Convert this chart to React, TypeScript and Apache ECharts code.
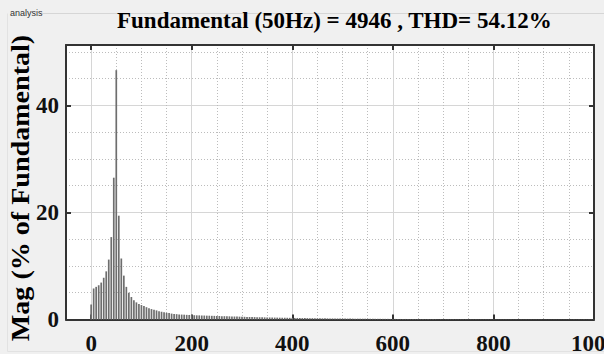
import React, { useEffect, useRef } from "react";
import * as echarts from "echarts";

// Spectrum magnitude (% of fundamental), one bin every 5 Hz
const binHz = 5;
const mag0to200 = [
  2.8, 5.8, 6.1, 6.4, 6.9, 7.8, 9.0, 11.2, 15.4, 26.5, 46.6, 19.4, 11.4, 8.2, 6.1, 5.0, 4.2, 3.6, 3.2, 2.9,
  2.7, 2.5, 2.3, 2.1, 1.95, 1.8, 1.7, 1.55, 1.45, 1.35, 1.25, 1.2, 1.1, 1.05, 1.0, 0.95, 0.92, 0.9, 0.87, 0.85,
  0.82,
];
const mag205to400 = [
  0.8, 0.78, 0.77, 0.75, 0.74, 0.72, 0.71, 0.69, 0.68, 0.66,
  0.65, 0.63, 0.62, 0.6, 0.59, 0.57, 0.56, 0.54, 0.53, 0.51,
  0.5, 0.48, 0.47, 0.46, 0.45, 0.44, 0.42, 0.41, 0.4, 0.39,
  0.38, 0.37, 0.36, 0.35, 0.34, 0.33, 0.33, 0.32, 0.31, 0.3,
];
const mag405to600 = [
  0.29, 0.29, 0.28, 0.27, 0.27, 0.26, 0.25, 0.25, 0.24, 0.23,
  0.23, 0.22, 0.22, 0.21, 0.21, 0.2, 0.2, 0.19, 0.19, 0.18,
  0.18, 0.17, 0.17, 0.17, 0.16, 0.16, 0.15, 0.15, 0.15, 0.14,
  0.14, 0.14, 0.13, 0.13, 0.13, 0.12, 0.12, 0.12, 0.11, 0.11,
];
const mag605to1000 = [
  0.11, 0.11, 0.1, 0.1, 0.1, 0.1, 0.09, 0.09, 0.09, 0.09,
  0.09, 0.08, 0.08, 0.08, 0.08, 0.08, 0.08, 0.07, 0.07, 0.07,
  0.07, 0.07, 0.07, 0.07, 0.06, 0.06, 0.06, 0.06, 0.06, 0.06,
  0.06, 0.06, 0.06, 0.05, 0.05, 0.05, 0.05, 0.05, 0.05, 0.05,
  0.05, 0.05, 0.05, 0.05, 0.04, 0.04, 0.04, 0.04, 0.04, 0.04,
  0.04, 0.04, 0.04, 0.04, 0.04, 0.04, 0.04, 0.04, 0.04, 0.03,
  0.03, 0.03, 0.03, 0.03, 0.03, 0.03, 0.03, 0.03, 0.03, 0.03,
  0.03, 0.03, 0.03, 0.03, 0.03, 0.03, 0.03, 0.03, 0.03, 0.03,
];
const xTickLabels = [0, 200, 400, 600, 800, 1000];
const yTickLabels = [0, 20, 40];
const titleText = "Fundamental (50Hz) = 4946 , THD= 54.12%";
const yName = "Mag (% of Fundamental)";
const panelName = "analysis";

const SERIF = "'Liberation Serif', 'Times New Roman', serif";

export default function App() {
  const ref = useRef<HTMLDivElement>(null);
  useEffect(() => {
    if (!ref.current) return;
    const chart = echarts.init(ref.current, undefined, { renderer: "svg" });
    const mags = [...mag0to200, ...mag205to400, ...mag405to600, ...mag605to1000];
    const data = mags.map((v, i) => [i * binHz, v]);
    const xMin = -50, xMax = 1000, yMin = 0, yMax = 51.3;
    const axisColor = "#333";
    const labelStyle = {
      fontFamily: SERIF,
      fontWeight: "bold" as const,
      fontSize: 23,
      color: "#111",
      formatter: (v: number) => String(v),
    };
    chart.setOption({
      animation: false,
      backgroundColor: "#f0f0f0",
      title: {
        text: titleText,
        left: 117,
        top: 9,
        padding: 0,
        textStyle: { fontFamily: SERIF, fontWeight: "bold", fontSize: 23, color: "#000" },
      },
      graphic: [
        {
          type: "text",
          left: 10,
          top: 8,
          style: { text: panelName, fontFamily: "'Liberation Sans', Arial, sans-serif", fontSize: 9, fill: "#333" },
        },
        {
          type: "line",
          shape: { x1: 42, y1: 13.5, x2: 604, y2: 13.5 },
          style: { stroke: "#d6d6d6", lineWidth: 1 },
        },
        {
          type: "line",
          shape: { x1: 7.5, y1: 13.5, x2: 7.5, y2: 351.5 },
          style: { stroke: "#e2e2e2", lineWidth: 1 },
        },
        {
          type: "line",
          shape: { x1: 7.5, y1: 351.5, x2: 604, y2: 351.5 },
          style: { stroke: "#e2e2e2", lineWidth: 1 },
        },
        {
          type: "text",
          x: 33,
          y: 188,
          rotation: Math.PI / 2,
          scaleX: 1.08,
          style: {
            text: yName,
            fontFamily: SERIF,
            fontWeight: "bold",
            fontSize: 26,
            fill: "#000",
            align: "center",
            verticalAlign: "bottom",
          },
        },
      ],
      grid: {
        left: 66,
        right: 10,
        top: 45,
        bottom: 34.5,
        show: true,
        backgroundColor: "#ffffff",
        borderWidth: 0,
        containLabel: false,
        outerBoundsMode: "none",
      },
      xAxis: [
        {
          type: "value", min: xMin, max: xMax, interval: 50, position: "bottom",
          axisLine: { show: false, onZero: false }, axisTick: { show: false }, axisLabel: { show: false },
          splitLine: { show: true, lineStyle: { color: "#bcbcbc", width: 1, type: [1, 2] } },
        },
        {
          type: "value", min: xMin, max: xMax, position: "bottom",
          axisLine: { show: true, onZero: false, lineStyle: { color: axisColor, width: 2 } },
          axisTick: { show: true, inside: true, length: 5, customValues: xTickLabels, lineStyle: { color: axisColor, width: 2 } },
          axisLabel: { ...labelStyle, margin: 12, customValues: xTickLabels },
          splitLine: { show: true, lineStyle: { color: "#d6d6d6", width: 1 } },
        },
        {
          type: "value", min: xMin, max: xMax, position: "top",
          axisLine: { show: true, onZero: false, lineStyle: { color: axisColor, width: 2 } },
          axisTick: { show: true, inside: true, length: 5, customValues: xTickLabels, lineStyle: { color: axisColor, width: 2 } },
          axisLabel: { show: false },
          splitLine: { show: false },
        },
      ],
      yAxis: [
        {
          type: "value", min: yMin, max: yMax, interval: 5, position: "left",
          axisLine: { show: false, onZero: false }, axisTick: { show: false }, axisLabel: { show: false },
          splitLine: { show: true, lineStyle: { color: "#bcbcbc", width: 1, type: [1, 2] } },
        },
        {
          type: "value", min: yMin, max: yMax, position: "left",
          axisLine: { show: true, onZero: false, lineStyle: { color: axisColor, width: 2 } },
          axisTick: { show: true, inside: true, length: 5, customValues: yTickLabels, lineStyle: { color: axisColor, width: 2 } },
          axisLabel: { ...labelStyle, margin: 7, customValues: yTickLabels },
          splitLine: { show: true, lineStyle: { color: "#d6d6d6", width: 1 } },
        },
        {
          type: "value", min: yMin, max: yMax, position: "right",
          axisLine: { show: true, onZero: false, lineStyle: { color: axisColor, width: 2 } },
          axisTick: { show: true, inside: true, length: 5, customValues: yTickLabels, lineStyle: { color: axisColor, width: 2 } },
          axisLabel: { show: false },
          splitLine: { show: false },
        },
      ],
      series: [
        {
          type: "bar",
          xAxisIndex: 0,
          yAxisIndex: 0,
          barWidth: 1.7,
          data,
          itemStyle: { color: "#6e6e6e" },
          silent: true,
        },
      ],
    });
    return () => chart.dispose();
  }, []);
  return (
    <div
      ref={ref}
      style={{ position: "fixed", left: 0, top: 0, width: 604, height: 354, background: "#f0f0f0" }}
    />
  );
}
